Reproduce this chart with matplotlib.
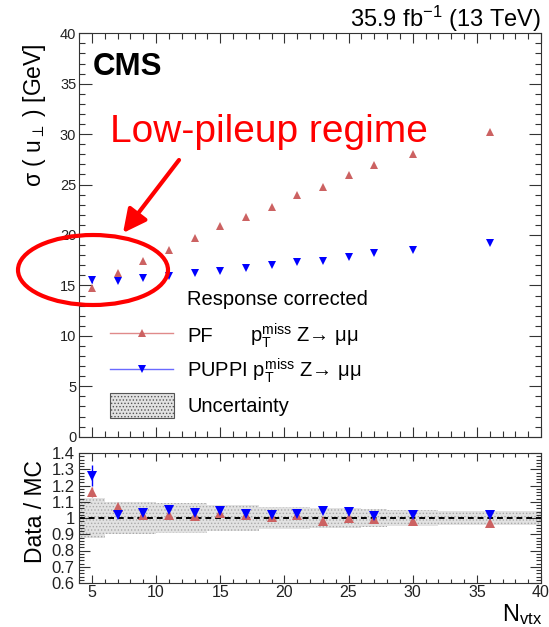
import matplotlib
matplotlib.use('Agg')
import matplotlib.pyplot as plt
import numpy as np
from matplotlib.patches import Ellipse, FancyArrowPatch, Rectangle
from matplotlib.lines import Line2D
from matplotlib.ticker import MultipleLocator, FuncFormatter

plt.rcParams['font.family'] = ['Liberation Sans', 'DejaVu Sans']
plt.rcParams['mathtext.fontset'] = 'custom'
plt.rcParams['mathtext.rm'] = 'Liberation Sans'
plt.rcParams['mathtext.it'] = 'Liberation Sans:italic'
plt.rcParams['mathtext.bf'] = 'Liberation Sans:bold'
plt.rcParams['hatch.color'] = '#a8a8a8'
plt.rcParams['hatch.linewidth'] = 0.6

# ---------------- data ----------------
nvtx = [5, 7, 9, 11, 13, 15, 17, 19, 21, 23, 25, 27, 30, 36]
pf_sigma = [14.77, 16.27, 17.45, 18.53, 19.67, 20.88, 21.83, 22.81, 23.99, 24.74, 25.95, 26.90, 28.07, 30.23]
puppi_sigma = [15.49, 15.42, 15.72, 15.95, 16.21, 16.47, 16.73, 17.00, 17.29, 17.45, 17.81, 18.24, 18.53, 19.25]
pf_sigma_err = [0.25, 0.12, 0.08, 0.06, 0.05, 0.05, 0.05, 0.05, 0.05, 0.06, 0.07, 0.08, 0.08, 0.12]
puppi_sigma_err = [0.25, 0.12, 0.08, 0.06, 0.05, 0.05, 0.05, 0.05, 0.05, 0.06, 0.07, 0.08, 0.08, 0.12]

pf_ratio = [1.159, 1.065, 1.020, 1.020, 1.010, 1.030, 1.018, 1.007, 1.018, 0.984, 1.000, 0.993, 0.980, 0.970]
puppi_ratio = [1.260, 1.018, 1.033, 1.052, 1.033, 1.046, 1.025, 1.016, 1.027, 1.044, 1.040, 1.014, 1.018, 1.016]
pf_ratio_err = [0.03, 0.01, 0.005, 0.004, 0.004, 0.004, 0.004, 0.004, 0.004, 0.005, 0.005, 0.006, 0.006, 0.008]
puppi_ratio_err = [0.065, 0.01, 0.005, 0.004, 0.004, 0.004, 0.004, 0.004, 0.004, 0.005, 0.005, 0.006, 0.006, 0.008]

bin_edges = [4, 6, 8, 10, 12, 14, 16, 18, 20, 22, 24, 26, 28, 32, 40]
band_unc = [0.125, 0.10, 0.10, 0.09, 0.09, 0.08, 0.08, 0.07, 0.065, 0.06, 0.06, 0.055, 0.05, 0.045]

W, H = 549, 627
def fx(x):
    return x / W
def fy(y):
    return 1 - y / H

pf_col = '#cc6262'
puppi_col = '#0000ff'
spine_col = '#333333'

fig = plt.figure(figsize=(W / 100, H / 100), dpi=100)
ax1 = fig.add_axes([fx(79), fy(436.7), (541 - 79) / W, (436.7 - 33.3) / H])
ax2 = fig.add_axes([fx(79), fy(583), (541 - 79) / W, (583 - 453) / H])

# ---------------- top panel ----------------
ax1.errorbar(nvtx, pf_sigma, yerr=pf_sigma_err, fmt='^', color=pf_col, ms=6,
             elinewidth=0.8, capsize=0, mew=0)
ax1.errorbar(nvtx, puppi_sigma, yerr=puppi_sigma_err, fmt='v', color=puppi_col, ms=6,
             elinewidth=0.8, capsize=0, mew=0)
ax1.set_xlim(4, 40)
ax1.set_ylim(0, 40)
ax1.xaxis.set_major_locator(MultipleLocator(5))
ax1.xaxis.set_minor_locator(MultipleLocator(1))
ax1.yaxis.set_major_locator(MultipleLocator(5))
ax1.yaxis.set_minor_locator(MultipleLocator(1))
ax1.tick_params(axis='both', which='both', direction='in', top=True, right=True,
                colors=spine_col, labelcolor='#222222', width=0.8)
ax1.tick_params(axis='y', which='major', length=9, labelsize=10.5, pad=2)
ax1.tick_params(axis='y', which='minor', length=4.5)
ax1.tick_params(axis='x', which='major', length=7)
ax1.tick_params(axis='x', which='minor', length=4)
ax1.tick_params(axis='x', labelbottom=False)

# ---------------- bottom panel ----------------
edges = np.array(bin_edges)
unc = np.array(band_unc)
ax2.bar(edges[:-1], 2 * unc, width=np.diff(edges), bottom=1 - unc, align='edge',
        color='#e2e2e2', hatch='.....', edgecolor='#a8a8a8', linewidth=0, zorder=1)
ax2.axhline(1.0, color='black', ls=(0, (3, 2)), lw=1.4, zorder=2)
ax2.errorbar(nvtx, pf_ratio, yerr=pf_ratio_err, fmt='^', color=pf_col, ms=7.5,
             elinewidth=1, capsize=0, mew=0, zorder=3)
ax2.errorbar(nvtx, puppi_ratio, yerr=puppi_ratio_err, fmt='v', color=puppi_col, ms=7.5,
             elinewidth=1, capsize=0, mew=0, zorder=4)
ax2.set_xlim(4, 40)
ax2.set_ylim(0.6, 1.4)
ax2.xaxis.set_major_locator(MultipleLocator(5))
ax2.xaxis.set_minor_locator(MultipleLocator(1))
ax2.yaxis.set_major_locator(MultipleLocator(0.1))
ax2.yaxis.set_minor_locator(MultipleLocator(0.02))
ax2.yaxis.set_major_formatter(FuncFormatter(lambda v, p: '%g' % round(v, 2)))
ax2.tick_params(axis='both', which='both', direction='in', top=True, right=True,
                colors=spine_col, labelcolor='#222222', width=0.8)
ax2.tick_params(axis='y', which='major', length=8, labelsize=12, pad=3)
ax2.tick_params(axis='y', which='minor', length=3.5)
ax2.tick_params(axis='x', which='major', length=6, labelsize=11.5, pad=1.5)
ax2.tick_params(axis='x', which='minor', length=3)

for ax in (ax1, ax2):
    for s in ax.spines.values():
        s.set_color(spine_col)
        s.set_linewidth(0.8)

# ---------------- texts ----------------
fig.text(fx(541), fy(27), r'35.9 fb$^{-1}$ (13 TeV)', ha='right', va='baseline', fontsize=17)
fig.text(fx(93), fy(75), 'CMS', ha='left', va='baseline', fontsize=22.5, fontweight='bold')
fig.text(fx(35), fy(43), r'σ ( u$_{\perp}$ ) [GeV]', rotation=90, ha='center', va='top', fontsize=16.5)
fig.text(fx(35), fy(460), 'Data / MC', rotation=90, ha='center', va='top', fontsize=16.5)
fig.text(fx(542), fy(621), r'N$_{\mathrm{vtx}}$', ha='right', va='baseline', fontsize=17)

# legend
lfs = 14.5
fig.text(fx(187), fy(305), 'Response corrected', ha='left', va='baseline', fontsize=lfs)
fig.add_artist(Line2D([fx(110), fx(173)], [fy(333), fy(333)], color='#e08a8a', lw=1,
                      transform=fig.transFigure))
fig.add_artist(Line2D([fx(141.7)], [fy(333)], marker='^', color=pf_col, ms=6, mew=0,
                      transform=fig.transFigure))
fig.text(fx(187), fy(341.7), 'PF', ha='left', va='baseline', fontsize=lfs)
fig.text(fx(250), fy(341.7), r'p$_{\mathrm{T}}^{\mathrm{miss}}$ Z→ μμ', ha='left', va='baseline', fontsize=lfs)
fig.add_artist(Line2D([fx(110), fx(173)], [fy(369), fy(369)], color='#6a6aff', lw=1,
                      transform=fig.transFigure))
fig.add_artist(Line2D([fx(141.7)], [fy(369)], marker='v', color=puppi_col, ms=6, mew=0,
                      transform=fig.transFigure))
fig.text(fx(187), fy(376.7), r'PUPPI p$_{\mathrm{T}}^{\mathrm{miss}}$ Z→ μμ', ha='left', va='baseline', fontsize=lfs)
fig.add_artist(Rectangle((fx(110), fy(417.7)), 64 / W, 25 / H, transform=fig.transFigure,
                         facecolor='#e2e2e2', hatch='.....', edgecolor='#555555', lw=0.8))
fig.text(fx(187), fy(412), 'Uncertainty', ha='left', va='baseline', fontsize=lfs)

# annotation
fig.text(fx(110), fy(141.7), 'Low-pileup regime', color='red', ha='left', va='baseline', fontsize=28)
fig.add_artist(FancyArrowPatch((fx(179), fy(160)), (fx(123), fy(233)), transform=fig.transFigure,
                               arrowstyle='-|>', mutation_scale=35, lw=3, color='red',
                               shrinkA=0, shrinkB=0))
fig.add_artist(Ellipse((fx(93), fy(270)), 150 / W, 70 / H, transform=fig.transFigure,
                       fill=False, edgecolor='red', lw=3))

fig.savefig('out.png', dpi=100)
